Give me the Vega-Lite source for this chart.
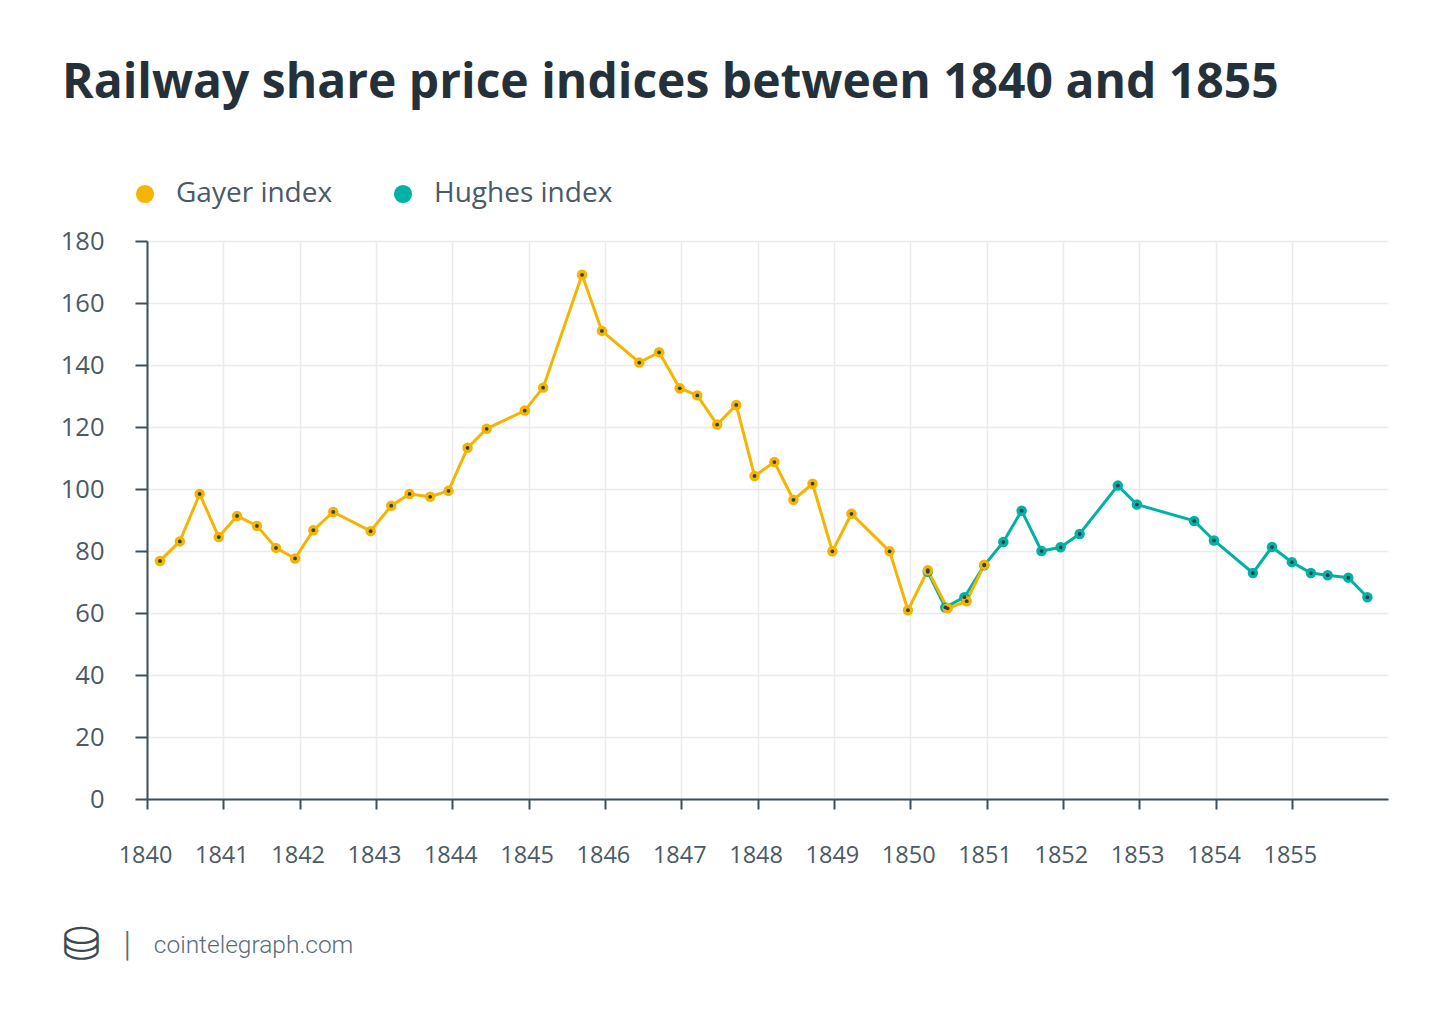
{
  "$schema": "https://vega.github.io/schema/vega-lite/v6.json",
  "autosize": {"type": "none"},
  "width": 1241,
  "height": 558,
  "padding": {"left": 147, "top": 241, "right": 62, "bottom": 227},
  "background": "#ffffff",
  "title": {
    "text": "Railway share price indices between 1840 and 1855",
    "anchor": "start",
    "frame": "group",
    "dx": -85,
    "offset": 72,
    "font": "Open Sans",
    "fontSize": 48,
    "fontWeight": 700,
    "color": "#25313a"
  },
  "data": {
    "values": [
      {"series": "Hughes index", "year": 1850.23, "value": 73.3},
      {"series": "Hughes index", "year": 1850.46, "value": 61.8},
      {"series": "Hughes index", "year": 1850.71, "value": 65.1},
      {"series": "Hughes index", "year": 1850.97, "value": 75.4},
      {"series": "Hughes index", "year": 1851.22, "value": 82.9},
      {"series": "Hughes index", "year": 1851.46, "value": 93.0},
      {"series": "Hughes index", "year": 1851.72, "value": 80.0},
      {"series": "Hughes index", "year": 1851.97, "value": 81.2},
      {"series": "Hughes index", "year": 1852.22, "value": 85.5},
      {"series": "Hughes index", "year": 1852.72, "value": 101.1},
      {"series": "Hughes index", "year": 1852.97, "value": 95.0},
      {"series": "Hughes index", "year": 1853.72, "value": 89.7},
      {"series": "Hughes index", "year": 1853.98, "value": 83.4},
      {"series": "Hughes index", "year": 1854.49, "value": 72.9},
      {"series": "Hughes index", "year": 1854.74, "value": 81.3},
      {"series": "Hughes index", "year": 1855.0, "value": 76.4},
      {"series": "Hughes index", "year": 1855.25, "value": 72.9},
      {"series": "Hughes index", "year": 1855.47, "value": 72.2},
      {"series": "Hughes index", "year": 1855.74, "value": 71.4},
      {"series": "Hughes index", "year": 1855.99, "value": 65.1},
      {"series": "Gayer index", "year": 1840.17, "value": 76.8},
      {"series": "Gayer index", "year": 1840.43, "value": 83.1},
      {"series": "Gayer index", "year": 1840.69, "value": 98.4},
      {"series": "Gayer index", "year": 1840.94, "value": 84.5},
      {"series": "Gayer index", "year": 1841.18, "value": 91.3},
      {"series": "Gayer index", "year": 1841.44, "value": 88.1},
      {"series": "Gayer index", "year": 1841.69, "value": 81.0},
      {"series": "Gayer index", "year": 1841.94, "value": 77.6},
      {"series": "Gayer index", "year": 1842.18, "value": 86.7},
      {"series": "Gayer index", "year": 1842.44, "value": 92.6},
      {"series": "Gayer index", "year": 1842.93, "value": 86.4},
      {"series": "Gayer index", "year": 1843.2, "value": 94.6},
      {"series": "Gayer index", "year": 1843.44, "value": 98.4},
      {"series": "Gayer index", "year": 1843.71, "value": 97.5},
      {"series": "Gayer index", "year": 1843.95, "value": 99.4},
      {"series": "Gayer index", "year": 1844.2, "value": 113.3},
      {"series": "Gayer index", "year": 1844.45, "value": 119.4},
      {"series": "Gayer index", "year": 1844.95, "value": 125.3},
      {"series": "Gayer index", "year": 1845.19, "value": 132.7},
      {"series": "Gayer index", "year": 1845.7, "value": 169.1},
      {"series": "Gayer index", "year": 1845.96, "value": 151.0},
      {"series": "Gayer index", "year": 1846.45, "value": 140.8},
      {"series": "Gayer index", "year": 1846.71, "value": 144.1},
      {"series": "Gayer index", "year": 1846.98, "value": 132.5},
      {"series": "Gayer index", "year": 1847.21, "value": 130.2},
      {"series": "Gayer index", "year": 1847.47, "value": 120.8},
      {"series": "Gayer index", "year": 1847.72, "value": 127.1},
      {"series": "Gayer index", "year": 1847.96, "value": 104.2},
      {"series": "Gayer index", "year": 1848.22, "value": 108.7},
      {"series": "Gayer index", "year": 1848.47, "value": 96.5},
      {"series": "Gayer index", "year": 1848.72, "value": 101.7},
      {"series": "Gayer index", "year": 1848.98, "value": 79.9},
      {"series": "Gayer index", "year": 1849.23, "value": 92.0},
      {"series": "Gayer index", "year": 1849.73, "value": 79.9},
      {"series": "Gayer index", "year": 1849.97, "value": 60.9},
      {"series": "Gayer index", "year": 1850.23, "value": 73.8},
      {"series": "Gayer index", "year": 1850.49, "value": 61.5},
      {"series": "Gayer index", "year": 1850.74, "value": 63.8},
      {"series": "Gayer index", "year": 1850.97, "value": 75.6}
    ]
  },
  "encoding": {
    "x": {
      "field": "year",
      "type": "quantitative",
      "scale": {"domain": [1840, 1856.26], "nice": false, "zero": false},
      "axis": {
        "values": [1840, 1841, 1842, 1843, 1844, 1845, 1846, 1847, 1848, 1849, 1850, 1851, 1852, 1853, 1854, 1855],
        "format": "d",
        "labelFontSize": 23.5,
        "labelPadding": 34,
        "labelOverlap": false,
        "labelFlush": false,
        "labelOffset": -2,
        "tickSize": 10,
        "title": "│\u00a0\u00a0\u00a0cointelegraph.com",
        "titleX": -29,
        "titleY": 146,
        "titleAlign": "left",
        "titleBaseline": "middle",
        "titleFont": "Roboto",
        "titleFontWeight": 300,
        "titleFontSize": 24.5,
        "titleColor": "#5b6b77"
      }
    },
    "y": {
      "field": "value",
      "type": "quantitative",
      "scale": {"domain": [0, 180], "nice": false},
      "axis": {
        "values": [0, 20, 40, 60, 80, 100, 120, 140, 160, 180],
        "labelFontSize": 25.5,
        "labelPadding": 31,
        "tickSize": 12,
        "title": "⛁",
        "titleAngle": 0,
        "titleX": -66,
        "titleY": 704,
        "titleAlign": "center",
        "titleBaseline": "middle",
        "titleFont": "DejaVu Sans",
        "titleFontSize": 46,
        "titleFontWeight": "normal",
        "titleColor": "#3d4a52"
      }
    },
    "color": {
      "field": "series",
      "type": "nominal",
      "scale": {"domain": ["Gayer index", "Hughes index"], "range": ["#f5b400", "#00b2a6"]},
      "legend": {
        "title": null,
        "orient": "none",
        "direction": "horizontal",
        "legendX": -16,
        "legendY": -61,
        "symbolType": "circle",
        "symbolSize": 330,
        "symbolStrokeWidth": 0,
        "labelFontSize": 28,
        "labelOffset": 17,
        "columnPadding": 56,
        "labelLimit": 400,
        "encode": {
          "symbols": {"update": {"fill": {"scale": "color", "field": "value"}, "opacity": {"value": 1}}}
        }
      }
    }
  },
  "layer": [
    {"mark": {"type": "line", "strokeWidth": 3}},
    {"mark": {"type": "point", "filled": true, "size": 110, "opacity": 1}},
    {
      "mark": {"type": "point", "filled": true, "size": 14, "opacity": 1, "color": "#2f3e46"},
      "encoding": {"color": {"value": "#2f3e46"}}
    }
  ],
  "config": {
    "font": "Open Sans",
    "view": {"stroke": null},
    "axis": {
      "domainColor": "#3d4f5c",
      "domainWidth": 2,
      "tickColor": "#3d4f5c",
      "tickWidth": 2,
      "labelColor": "#4a5a66",
      "labelFont": "Open Sans",
      "gridColor": "#ebebeb",
      "gridWidth": 1.5
    },
    "legend": {"labelColor": "#4a5a66", "labelFont": "Open Sans"}
  }
}
